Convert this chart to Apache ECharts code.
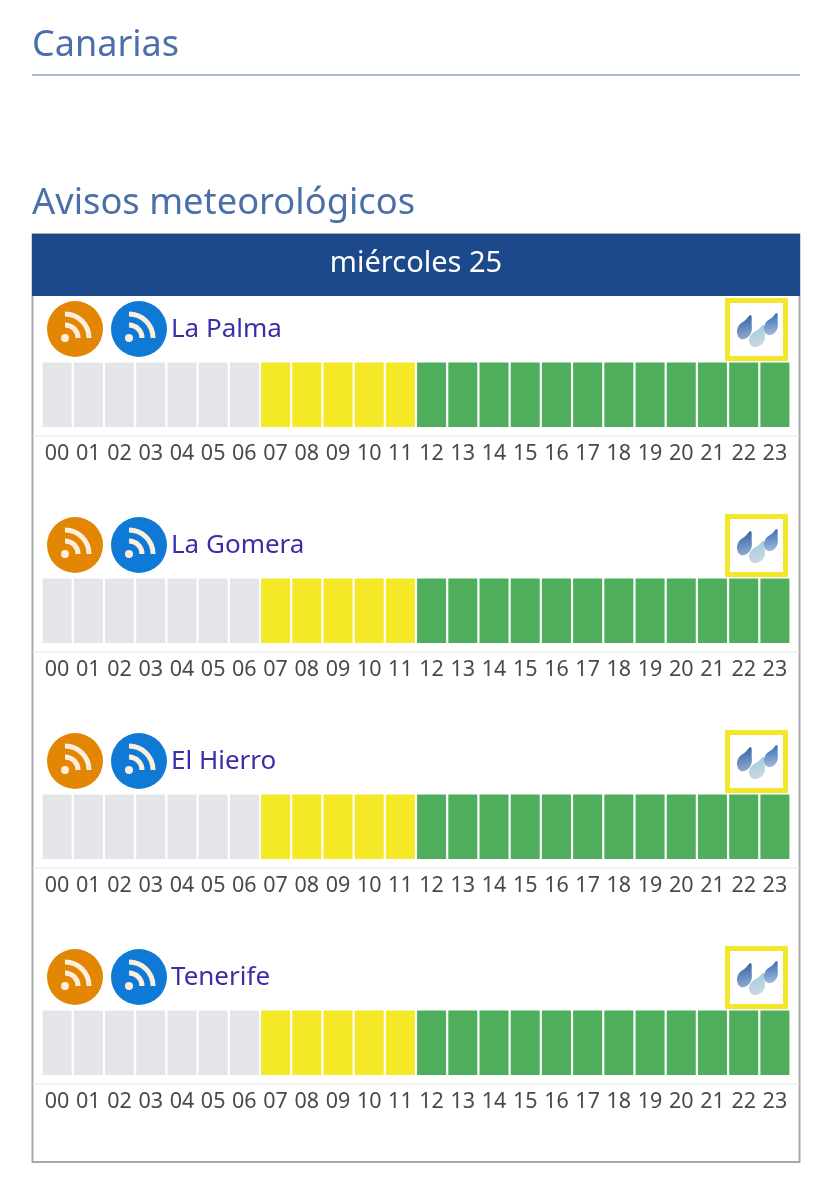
<!DOCTYPE html>
<html>
<head>
<meta charset="utf-8">
<title>Avisos meteorológicos</title>
<script src="https://cdn.jsdelivr.net/npm/echarts@6/dist/echarts.min.js"></script>
<style>
  html, body { margin: 0; padding: 0; background: #fff; }
  #chart { width: 832px; height: 1199px; }
</style>
</head>
<body>
<div id="chart"></div>
<script>
const regionName = 'Canarias';
const pageTitle = 'Avisos meteorológicos';
const dayLabel = 'miércoles 25';
const hours = ['00','01','02','03','04','05','06','07','08','09','10','11','12','13','14','15','16','17','18','19','20','21','22','23'];
const islands = ['La Palma', 'La Gomera', 'El Hierro', 'Tenerife'];

// n = sin datos, a = aviso amarillo, v = sin aviso
const laPalma  = ['n','n','n','n','n','n','n','a','a','a','a','a','v','v','v','v','v','v','v','v','v','v','v','v'];
const laGomera = ['n','n','n','n','n','n','n','a','a','a','a','a','v','v','v','v','v','v','v','v','v','v','v','v'];
const elHierro = ['n','n','n','n','n','n','n','a','a','a','a','a','v','v','v','v','v','v','v','v','v','v','v','v'];
const tenerife = ['n','n','n','n','n','n','n','a','a','a','a','a','v','v','v','v','v','v','v','v','v','v','v','v'];
const islandLevels = [laPalma, laGomera, elHierro, tenerife];

const levelColors = { n: '#e3e5e9', a: '#f4e827', v: '#4fae5c' };
const font = '"Noto Sans", sans-serif';
const rowStep = 216;
// drop outline, 0..1 inside the icon box, tip at the upper right
const dropOutline = [[0.92, 0], [0.98, 0.4], [0.95, 0.72], [0.6, 0.98], [0.2, 0.98], [0, 0.72], [0.15, 0.42], [0.55, 0.22]];

function rssIcon(cx, cy, fill) {
  const ink = '#fbeedd';
  const arc = (r) => ({
    type: 'arc',
    shape: { cx: cx - 10, cy: cy + 9, r, startAngle: -Math.PI / 2, endAngle: 0, clockwise: true },
    style: { fill: 'none', stroke: ink, lineWidth: 5 },
    silent: true,
  });
  return [
    { type: 'circle', shape: { cx, cy, r: 28 }, style: { fill } },
    arc(13),
    arc(24),
    { type: 'circle', shape: { cx: cx - 10, cy: cy + 9, r: 4 }, style: { fill: ink } },
  ];
}

function drop(x, y, w, h, top, bottom) {
  return {
    type: 'polygon',
    shape: { points: dropOutline.map(([px, py]) => [x + px * w, y + py * h]), smooth: 0.4 },
    style: {
      fill: {
        type: 'linear', x: 0, y: 0, x2: 0.3, y2: 1,
        colorStops: [{ offset: 0, color: top }, { offset: 1, color: bottom }],
      },
    },
  };
}

const grids = [];
const xAxes = [];
const yAxes = [];
const series = [];
const graphics = [
  { type: 'text', x: 32, y: 46, style: { text: regionName, font: '36px ' + font, fill: '#4a6fa9', verticalAlign: 'middle' } },
  { type: 'line', shape: { x1: 32, y1: 75, x2: 800, y2: 75 }, style: { stroke: '#a9bad0', lineWidth: 2 } },
  { type: 'text', x: 32, y: 204, style: { text: pageTitle, font: '36.3px ' + font, fill: '#4a6fa9', verticalAlign: 'middle' } },
  { type: 'rect', shape: { x: 32.5, y: 234, width: 767, height: 928 }, style: { fill: 'none', stroke: '#aaaaaa', lineWidth: 2 } },
  { type: 'rect', shape: { x: 32, y: 234, width: 768, height: 62 }, style: { fill: '#1c488c' } },
  { type: 'text', x: 416, y: 264, style: { text: dayLabel, font: '29px ' + font, fill: '#ffffff', align: 'center', verticalAlign: 'middle' } },
];

islands.forEach((name, i) => {
  const dy = i * rowStep;
  grids.push({ left: 41.5, width: 749, top: 362.5 + dy, height: 64.5 });
  xAxes.push({
    type: 'category',
    gridIndex: i,
    data: hours,
    axisLine: { show: false },
    axisTick: { show: false },
    axisLabel: { interval: 0, margin: 16, fontSize: 21.5, fontFamily: font, color: '#4a4a4a', hideOverlap: false },
  });
  yAxes.push({ type: 'value', gridIndex: i, min: 0, max: 1, show: false });
  series.push({
    type: 'bar',
    name,
    xAxisIndex: i,
    yAxisIndex: i,
    barCategoryGap: '7%',
    silent: true,
    data: islandLevels[i].map((lvl) => ({ value: 1, itemStyle: { color: levelColors[lvl] } })),
  });
  graphics.push(
    ...rssIcon(75, 329 + dy, '#e38604'),
    ...rssIcon(139, 329 + dy, '#0f7ad6'),
    { type: 'text', x: 171, y: 330 + dy, style: { text: name, font: '26px ' + font, fill: '#3a2fa8', verticalAlign: 'middle' } },
    { type: 'line', shape: { x1: 33, y1: 436 + dy, x2: 799, y2: 436 + dy }, style: { stroke: '#eeeeee', lineWidth: 1.5 } },
    { type: 'rect', shape: { x: 727.5, y: 300.5 + dy, width: 58, height: 58 }, style: { fill: '#ffffff', stroke: '#f3e72c', lineWidth: 5 } },
    drop(737, 315 + dy, 15, 24, '#2f5f9f', '#8eaad0'),
    drop(749, 325 + dy, 16, 22, '#a8c6d8', '#c6dbe4'),
    drop(764, 313 + dy, 14, 22, '#2f69b0', '#9dbbdc'),
  );
});

const chart = echarts.init(document.getElementById('chart'), null, { renderer: 'canvas' });
chart.setOption({
  animation: false,
  backgroundColor: '#ffffff',
  grid: grids,
  xAxis: xAxes,
  yAxis: yAxes,
  series,
  graphic: { elements: graphics },
});
</script>
</body>
</html>
